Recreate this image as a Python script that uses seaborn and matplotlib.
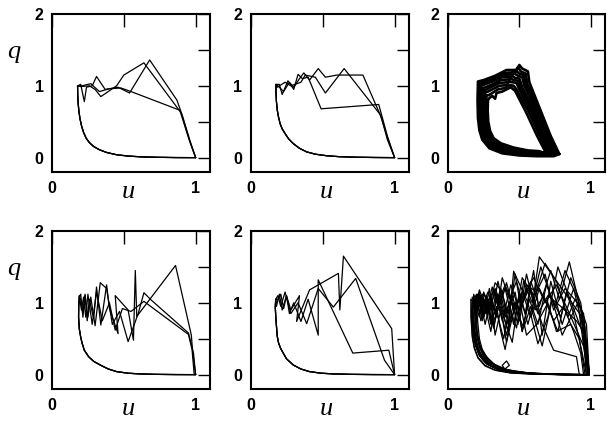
import matplotlib
matplotlib.use("Agg")
import matplotlib.pyplot as plt
import seaborn as sns
import pandas as pd

# ---------------- data ----------------
# panel 1 (top left)
p1_low_u = [0.178, 0.179, 0.182, 0.187, 0.195, 0.206, 0.22, 0.238, 0.26, 0.29, 0.33, 0.38, 0.45, 0.53, 0.62, 0.73, 0.86, 1.0]
p1_low_q = [1.0, 0.88, 0.76, 0.65, 0.54, 0.44, 0.35, 0.27, 0.21, 0.155, 0.11, 0.072, 0.04, 0.022, 0.011, 0.005, 0.001, 0.0]
p1_a_u = [1.0, 0.96, 0.91, 0.87, 0.68, 0.54, 0.46, 0.37, 0.31, 0.28, 0.24, 0.225, 0.20]
p1_a_q = [0.0, 0.24, 0.57, 0.80, 1.36, 0.90, 0.98, 0.95, 1.13, 1.0, 0.98, 0.78, 1.02]
p1_b_u = [1.0, 0.96, 0.90, 0.64, 0.50, 0.45, 0.34, 0.30, 0.26, 0.20]
p1_b_q = [0.0, 0.22, 0.62, 1.32, 1.15, 1.0, 0.85, 0.95, 1.0, 0.99]
p1_c_u = [1.0, 0.95, 0.89, 0.55, 0.48, 0.40, 0.33, 0.27, 0.21]
p1_c_q = [0.0, 0.28, 0.66, 0.92, 0.97, 0.96, 0.92, 1.03, 1.0]

# panel 2 (top middle)
p2_low_u = [0.176, 0.177, 0.180, 0.186, 0.195, 0.206, 0.22, 0.24, 0.265, 0.297, 0.34, 0.39, 0.45, 0.53, 0.62, 0.73, 0.86, 1.0]
p2_low_q = [1.02, 0.90, 0.78, 0.66, 0.56, 0.47, 0.40, 0.335, 0.26, 0.195, 0.13, 0.08, 0.048, 0.026, 0.013, 0.006, 0.002, 0.0]
p2_a_u = [1.0, 0.95, 0.89, 0.49, 0.40, 0.36, 0.33, 0.30, 0.26, 0.22, 0.20]
p2_a_q = [0.0, 0.30, 0.74, 0.68, 1.12, 1.10, 1.16, 0.95, 1.07, 0.88, 1.02]
p2_b_u = [1.0, 0.95, 0.91, 0.78, 0.60, 0.52, 0.47, 0.41, 0.37, 0.34, 0.30, 0.27, 0.23, 0.19]
p2_b_q = [0.0, 0.25, 0.55, 1.15, 1.15, 1.12, 1.24, 1.08, 1.18, 1.10, 0.98, 1.05, 0.92, 1.0]
p2_c_u = [1.0, 0.95, 0.90, 0.65, 0.52, 0.45, 0.38, 0.35, 0.28, 0.24, 0.185]
p2_c_q = [0.0, 0.28, 0.60, 1.24, 0.90, 1.12, 1.15, 1.05, 1.0, 1.05, 0.98]

# panel 3 (top right): closed loops of the periodic orbit band
p3_l0_u = [0.78, 0.72, 0.64, 0.57, 0.56, 0.52, 0.50, 0.48, 0.41, 0.33, 0.25, 0.21, 0.207, 0.21, 0.22, 0.24, 0.29, 0.38, 0.50, 0.62, 0.74, 0.78]
p3_l0_q = [0.05, 0.30, 0.70, 1.05, 1.20, 1.24, 1.29, 1.22, 1.22, 1.14, 1.08, 1.06, 0.80, 0.55, 0.38, 0.25, 0.13, 0.06, 0.03, 0.02, 0.02, 0.05]
p3_l1_u = [0.77, 0.71, 0.63, 0.555, 0.545, 0.51, 0.49, 0.47, 0.40, 0.33, 0.26, 0.215, 0.213, 0.217, 0.228, 0.25, 0.30, 0.39, 0.50, 0.62, 0.73, 0.77]
p3_l1_q = [0.06, 0.31, 0.70, 1.03, 1.17, 1.20, 1.26, 1.19, 1.18, 1.12, 1.07, 1.04, 0.78, 0.55, 0.38, 0.25, 0.14, 0.07, 0.04, 0.03, 0.03, 0.06]
p3_l2_u = [0.76, 0.70, 0.62, 0.545, 0.53, 0.50, 0.47, 0.45, 0.39, 0.32, 0.26, 0.22, 0.22, 0.224, 0.235, 0.26, 0.31, 0.40, 0.51, 0.63, 0.72, 0.76]
p3_l2_q = [0.05, 0.30, 0.68, 1.02, 1.15, 1.17, 1.22, 1.16, 1.15, 1.09, 1.04, 1.02, 0.78, 0.56, 0.39, 0.26, 0.15, 0.08, 0.045, 0.035, 0.035, 0.05]
p3_l3_u = [0.75, 0.69, 0.61, 0.535, 0.52, 0.49, 0.46, 0.44, 0.38, 0.31, 0.26, 0.23, 0.228, 0.232, 0.245, 0.27, 0.32, 0.41, 0.52, 0.64, 0.71, 0.75]
p3_l3_q = [0.06, 0.31, 0.68, 1.00, 1.12, 1.14, 1.18, 1.12, 1.12, 1.06, 1.02, 1.00, 0.76, 0.55, 0.39, 0.26, 0.16, 0.09, 0.055, 0.045, 0.045, 0.06]
p3_l4_u = [0.74, 0.675, 0.60, 0.52, 0.50, 0.47, 0.45, 0.43, 0.37, 0.31, 0.265, 0.24, 0.238, 0.242, 0.255, 0.28, 0.33, 0.42, 0.53, 0.64, 0.70, 0.74]
p3_l4_q = [0.05, 0.30, 0.66, 0.98, 1.10, 1.11, 1.14, 1.09, 1.08, 1.02, 0.98, 0.97, 0.74, 0.54, 0.39, 0.27, 0.17, 0.10, 0.065, 0.055, 0.05, 0.05]
p3_l5_u = [0.73, 0.665, 0.59, 0.51, 0.49, 0.46, 0.44, 0.42, 0.36, 0.31, 0.27, 0.25, 0.248, 0.252, 0.265, 0.29, 0.34, 0.43, 0.54, 0.64, 0.69, 0.73]
p3_l5_q = [0.06, 0.31, 0.66, 0.97, 1.07, 1.08, 1.10, 1.05, 1.04, 0.99, 0.95, 0.94, 0.72, 0.53, 0.38, 0.27, 0.18, 0.11, 0.075, 0.065, 0.06, 0.06]
p3_l6_u = [0.72, 0.655, 0.58, 0.50, 0.48, 0.45, 0.43, 0.41, 0.36, 0.31, 0.28, 0.26, 0.258, 0.262, 0.275, 0.30, 0.35, 0.44, 0.55, 0.64, 0.68, 0.72]
p3_l6_q = [0.05, 0.30, 0.64, 0.95, 1.04, 1.05, 1.06, 1.01, 1.00, 0.95, 0.92, 0.91, 0.70, 0.52, 0.38, 0.27, 0.19, 0.12, 0.085, 0.075, 0.065, 0.05]
p3_l7_u = [0.70, 0.64, 0.565, 0.48, 0.46, 0.44, 0.42, 0.40, 0.35, 0.31, 0.285, 0.27, 0.268, 0.272, 0.285, 0.31, 0.36, 0.45, 0.56, 0.64, 0.67, 0.70]
p3_l7_q = [0.06, 0.31, 0.64, 0.95, 1.00, 1.01, 1.00, 0.97, 0.95, 0.90, 0.87, 0.87, 0.68, 0.51, 0.37, 0.27, 0.19, 0.13, 0.09, 0.08, 0.07, 0.06]
p3_l8_u = [0.69, 0.62, 0.55, 0.47, 0.44, 0.42, 0.38, 0.34, 0.33, 0.31, 0.29, 0.28, 0.278, 0.282, 0.295, 0.32, 0.37, 0.46, 0.56, 0.64, 0.69]
p3_l8_q = [0.05, 0.32, 0.62, 0.93, 0.98, 0.96, 0.92, 0.90, 0.82, 0.86, 0.83, 0.80, 0.66, 0.50, 0.37, 0.27, 0.20, 0.14, 0.10, 0.09, 0.05]

# panel 4 (bottom left)
p4_low_u = [0.19, 0.186, 0.185, 0.19, 0.20, 0.21, 0.225, 0.255, 0.29, 0.336, 0.39, 0.45, 0.53, 0.61, 0.72, 0.86, 1.0]
p4_low_q = [1.08, 0.95, 0.80, 0.64, 0.52, 0.435, 0.34, 0.25, 0.185, 0.134, 0.08, 0.042, 0.02, 0.01, 0.004, 0.001, 0.0]
p4_a_u = [1.0, 0.98, 0.97, 0.86, 0.59, 0.58, 0.567, 0.53, 0.44, 0.46, 0.40, 0.38, 0.34, 0.31, 0.29, 0.26, 0.245, 0.23, 0.215, 0.20, 0.19]
p4_a_q = [0.0, 0.30, 0.55, 1.52, 0.81, 1.45, 0.48, 0.90, 1.10, 0.57, 0.92, 1.25, 0.69, 1.22, 0.78, 1.05, 0.75, 1.10, 0.80, 1.12, 1.08]
p4_b_u = [1.0, 0.985, 0.95, 0.69, 0.64, 0.60, 0.53, 0.47, 0.42, 0.38, 0.336, 0.30, 0.27, 0.25, 0.23, 0.215, 0.20, 0.19]
p4_b_q = [0.0, 0.30, 0.58, 1.04, 1.14, 0.85, 0.46, 0.88, 0.70, 1.20, 1.28, 0.68, 1.08, 0.80, 1.12, 0.85, 1.05, 1.08]
p4_c_u = [0.99, 0.975, 0.95, 0.64, 0.55, 0.49, 0.44, 0.40, 0.35, 0.31, 0.28, 0.25, 0.235, 0.22, 0.205, 0.19]
p4_c_q = [0.0, 0.35, 0.56, 1.02, 0.88, 0.92, 0.62, 1.00, 0.75, 1.15, 0.70, 1.12, 0.80, 1.08, 0.90, 1.10]

# panel 5 (bottom middle)
p5_low_u = [0.175, 0.172, 0.175, 0.18, 0.186, 0.195, 0.208, 0.227, 0.25, 0.297, 0.35, 0.41, 0.49, 0.575, 0.70, 0.85, 1.0]
p5_low_q = [1.05, 0.94, 0.82, 0.68, 0.53, 0.44, 0.37, 0.30, 0.22, 0.134, 0.078, 0.042, 0.02, 0.01, 0.004, 0.001, 0.0]
p5_a_u = [1.0, 0.98, 0.645, 0.62, 0.61, 0.41, 0.32, 0.34, 0.28, 0.25, 0.23, 0.21, 0.195]
p5_a_q = [0.0, 0.64, 1.65, 0.90, 1.41, 1.18, 0.74, 1.10, 0.90, 1.10, 0.92, 1.12, 1.05]
p5_b_u = [1.0, 0.96, 0.71, 0.47, 0.47, 0.40, 0.35, 0.30, 0.27, 0.25, 0.22, 0.20, 0.18]
p5_b_q = [0.0, 0.34, 0.30, 1.32, 0.55, 1.05, 0.74, 1.0, 0.85, 1.1, 0.9, 1.12, 0.95]
p5_c_u = [1.0, 0.93, 0.73, 0.575, 0.47, 0.39, 0.33, 0.28, 0.24, 0.21, 0.19]
p5_c_q = [0.0, 0.20, 1.34, 0.94, 1.20, 0.71, 1.0, 0.85, 1.15, 0.95, 1.1]

# panel 6 (bottom right): many irregular trajectories
p6_t1_u = [0.99, 0.96, 0.85, 0.78, 0.72, 0.64, 0.58, 0.50, 0.44, 0.38, 0.33, 0.28, 0.24, 0.21, 0.18, 0.17, 0.175, 0.19, 0.22, 0.27, 0.34, 0.45, 0.60, 0.80, 0.99]
p6_t1_q = [0.0, 0.65, 1.57, 1.05, 1.45, 0.95, 1.30, 0.90, 1.25, 0.75, 1.15, 0.85, 1.12, 1.0, 1.08, 0.85, 0.6, 0.42, 0.27, 0.15, 0.08, 0.03, 0.01, 0.0, 0.0]
p6_t2_u = [0.98, 0.94, 0.64, 0.60, 0.52, 0.46, 0.40, 0.35, 0.31, 0.27, 0.23, 0.19, 0.18, 0.185, 0.20, 0.23, 0.28, 0.36, 0.47, 0.62, 0.80, 0.98]
p6_t2_q = [0.0, 0.80, 1.64, 1.10, 1.35, 0.70, 1.20, 0.95, 1.22, 0.90, 1.10, 1.05, 0.80, 0.58, 0.40, 0.26, 0.15, 0.08, 0.035, 0.012, 0.003, 0.0]
p6_t3_u = [0.99, 0.95, 0.77, 0.70, 0.63, 0.56, 0.46, 0.42, 0.36, 0.32, 0.29, 0.25, 0.22, 0.20, 0.16, 0.16, 0.17, 0.185, 0.21, 0.26, 0.33, 0.44, 0.60, 0.80, 0.99]
p6_t3_q = [0.0, 0.55, 1.50, 0.80, 0.43, 1.00, 1.44, 0.60, 1.05, 0.65, 1.20, 0.80, 1.15, 0.95, 1.05, 0.8, 0.55, 0.38, 0.24, 0.13, 0.065, 0.025, 0.008, 0.0, 0.0]
p6_t4_u = [0.92, 0.90, 0.74, 0.66, 0.58, 0.52, 0.48, 0.41, 0.37, 0.33, 0.30, 0.26, 0.23, 0.21, 0.19, 0.20, 0.215, 0.24, 0.29, 0.37, 0.40, 0.43, 0.41, 0.38, 0.40, 0.48, 0.62, 0.78, 0.92]
p6_t4_q = [0.0, 0.25, 0.34, 0.70, 1.20, 0.60, 1.05, 0.45, 0.90, 0.55, 1.05, 0.70, 1.00, 1.12, 0.90, 0.62, 0.45, 0.30, 0.17, 0.09, 0.08, 0.13, 0.19, 0.13, 0.07, 0.04, 0.015, 0.005, 0.0]
p6_t5_u = [0.99, 0.97, 0.88, 0.80, 0.72, 0.66, 0.60, 0.54, 0.48, 0.43, 0.38, 0.34, 0.30, 0.26, 0.22, 0.20, 0.195, 0.20, 0.22, 0.25, 0.30, 0.38, 0.50, 0.65, 0.82, 0.99]
p6_t5_q = [0.0, 0.45, 1.20, 0.70, 1.30, 0.55, 1.45, 0.85, 1.30, 1.05, 1.35, 0.80, 1.10, 0.95, 1.18, 1.0, 0.75, 0.55, 0.38, 0.25, 0.14, 0.07, 0.03, 0.01, 0.0, 0.0]
p6_t6_u = [0.97, 0.93, 0.82, 0.74, 0.68, 0.62, 0.55, 0.50, 0.45, 0.40, 0.35, 0.30, 0.27, 0.24, 0.21, 0.18, 0.17, 0.175, 0.185, 0.21, 0.25, 0.31, 0.40, 0.52, 0.70, 0.97]
p6_t6_q = [0.0, 0.95, 1.20, 0.90, 1.40, 1.15, 1.25, 0.75, 1.10, 0.85, 1.30, 0.75, 1.10, 0.85, 1.05, 1.10, 0.9, 0.65, 0.47, 0.31, 0.19, 0.11, 0.055, 0.022, 0.006, 0.0]
p6_t7_u = [0.99, 0.95, 0.90, 0.79, 0.70, 0.63, 0.57, 0.51, 0.47, 0.42, 0.38, 0.33, 0.29, 0.25, 0.22, 0.20, 0.19, 0.19, 0.205, 0.23, 0.28, 0.35, 0.46, 0.62, 0.80, 0.99]
p6_t7_q = [0.0, 0.60, 0.75, 0.95, 1.10, 0.85, 1.20, 0.95, 1.40, 0.70, 1.15, 1.28, 0.95, 1.15, 0.85, 1.10, 0.85, 0.6, 0.42, 0.28, 0.16, 0.085, 0.035, 0.01, 0.0, 0.0]
p6_t8_u = [0.96, 0.92, 0.86, 0.76, 0.70, 0.62, 0.55, 0.50, 0.44, 0.40, 0.37, 0.34, 0.30, 0.27, 0.24, 0.22, 0.20, 0.21, 0.22, 0.24, 0.28, 0.34, 0.43, 0.55, 0.72, 0.96]
p6_t8_q = [0.0, 0.50, 0.70, 0.60, 1.00, 0.70, 0.55, 1.05, 0.78, 0.35, 0.60, 0.95, 0.70, 1.00, 0.75, 1.05, 0.95, 0.7, 0.5, 0.35, 0.22, 0.12, 0.06, 0.025, 0.008, 0.0]
p6_t9_u = [0.99, 0.96, 0.84, 0.76, 0.68, 0.60, 0.53, 0.46, 0.40, 0.36, 0.32, 0.28, 0.25, 0.22, 0.20, 0.17, 0.165, 0.17, 0.185, 0.21, 0.26, 0.33, 0.44, 0.60, 0.80, 0.99]
p6_t9_q = [0.0, 0.35, 0.90, 1.25, 1.00, 1.35, 1.10, 0.95, 1.25, 1.05, 1.18, 1.00, 1.12, 0.98, 1.05, 1.0, 0.75, 0.52, 0.36, 0.23, 0.12, 0.06, 0.022, 0.006, 0.0, 0.0]
p6_t10_u = [0.99, 0.97, 0.90, 0.82, 0.75, 0.69, 0.63, 0.57, 0.52, 0.47, 0.42, 0.37, 0.32, 0.28, 0.24, 0.21, 0.185, 0.18, 0.185, 0.20, 0.23, 0.28, 0.36, 0.47, 0.63, 0.82, 0.99]
p6_t10_q = [0.0, 0.70, 1.10, 1.45, 0.95, 1.25, 0.70, 1.05, 0.60, 1.15, 0.85, 1.20, 0.90, 1.15, 0.95, 1.12, 1.0, 0.78, 0.55, 0.39, 0.25, 0.14, 0.07, 0.03, 0.01, 0.0, 0.0]
p6_t11_u = [0.98, 0.95, 0.91, 0.80, 0.73, 0.66, 0.58, 0.53, 0.46, 0.41, 0.36, 0.31, 0.27, 0.23, 0.20, 0.175, 0.17, 0.18, 0.195, 0.22, 0.27, 0.34, 0.44, 0.58, 0.78, 0.98]
p6_t11_q = [0.0, 0.40, 1.00, 0.55, 1.05, 0.40, 0.95, 0.65, 1.00, 0.55, 0.95, 0.70, 1.05, 0.90, 1.12, 1.02, 0.8, 0.58, 0.40, 0.26, 0.15, 0.08, 0.035, 0.012, 0.002, 0.0]
p6_t12_u = [0.99, 0.96, 0.93, 0.86, 0.79, 0.71, 0.65, 0.59, 0.53, 0.48, 0.43, 0.39, 0.35, 0.30, 0.26, 0.23, 0.21, 0.19, 0.19, 0.20, 0.22, 0.26, 0.32, 0.41, 0.54, 0.72, 0.99]
p6_t12_q = [0.0, 0.55, 1.00, 1.35, 0.80, 1.15, 1.50, 1.00, 1.30, 0.65, 0.95, 0.50, 0.80, 1.05, 0.85, 1.10, 0.90, 1.08, 0.82, 0.6, 0.42, 0.27, 0.15, 0.07, 0.03, 0.008, 0.0]
p6_t13_u = [0.97, 0.94, 0.88, 0.83, 0.77, 0.70, 0.64, 0.58, 0.52, 0.46, 0.41, 0.37, 0.33, 0.29, 0.25, 0.22, 0.19, 0.17, 0.165, 0.175, 0.19, 0.22, 0.27, 0.35, 0.46, 0.62, 0.80, 0.97]
p6_t13_q = [0.0, 0.30, 0.85, 1.15, 0.60, 0.95, 1.20, 0.80, 1.15, 0.90, 1.28, 1.00, 1.20, 0.85, 1.05, 0.80, 1.00, 1.08, 0.88, 0.64, 0.45, 0.29, 0.16, 0.08, 0.03, 0.01, 0.002, 0.0]
p6_t14_u = [0.99, 0.95, 0.89, 0.84, 0.76, 0.68, 0.61, 0.56, 0.50, 0.45, 0.39, 0.34, 0.30, 0.26, 0.23, 0.205, 0.20, 0.205, 0.22, 0.25, 0.30, 0.37, 0.48, 0.64, 0.83, 0.99]
p6_t14_q = [0.0, 0.85, 1.05, 0.80, 1.30, 1.55, 1.10, 0.70, 1.15, 0.45, 0.80, 1.10, 0.60, 0.95, 0.75, 1.05, 0.8, 0.6, 0.43, 0.29, 0.17, 0.09, 0.04, 0.012, 0.002, 0.0]
p6_t15_u = [0.95, 0.93, 0.88, 0.81, 0.74, 0.67, 0.61, 0.55, 0.49, 0.44, 0.40, 0.36, 0.32, 0.28, 0.25, 0.22, 0.20, 0.18, 0.175, 0.18, 0.195, 0.22, 0.26, 0.32, 0.41, 0.53, 0.70, 0.95]
p6_t15_q = [0.0, 0.30, 0.60, 0.95, 0.75, 1.10, 0.90, 1.40, 0.70, 1.05, 0.80, 1.10, 0.65, 1.00, 0.80, 1.10, 0.95, 1.12, 0.9, 0.68, 0.48, 0.32, 0.20, 0.11, 0.055, 0.022, 0.006, 0.0]

x_ticks = [0, 0.5, 1]
x_tick_labels = ["0", "", "1"]
y_ticks = [0, 0.5, 1, 1.5, 2]
y_tick_labels = ["0", "", "1", "", "2"]


def frame(parts):
    rows = []
    for k, (u, q) in enumerate(parts):
        for i, (a, b) in enumerate(zip(u, q)):
            rows.append({"traj": k, "i": i, "u": a, "q": b})
    return pd.DataFrame(rows)


panels = [
    (frame([(p1_a_u + p1_low_u, p1_a_q + p1_low_q),
            (p1_b_u + p1_low_u, p1_b_q + p1_low_q),
            (p1_c_u + p1_low_u, p1_c_q + p1_low_q)]), 0.9),
    (frame([(p2_a_u + p2_low_u, p2_a_q + p2_low_q),
            (p2_b_u + p2_low_u, p2_b_q + p2_low_q),
            (p2_c_u + p2_low_u, p2_c_q + p2_low_q)]), 0.9),
    (frame([(p3_l0_u, p3_l0_q), (p3_l1_u, p3_l1_q), (p3_l2_u, p3_l2_q),
            (p3_l3_u, p3_l3_q), (p3_l4_u, p3_l4_q), (p3_l5_u, p3_l5_q),
            (p3_l6_u, p3_l6_q), (p3_l7_u, p3_l7_q), (p3_l8_u, p3_l8_q)]), 1.9),
    (frame([(p4_a_u + p4_low_u, p4_a_q + p4_low_q),
            (p4_b_u + p4_low_u, p4_b_q + p4_low_q),
            (p4_c_u + p4_low_u, p4_c_q + p4_low_q)]), 0.9),
    (frame([(p5_a_u + p5_low_u, p5_a_q + p5_low_q),
            (p5_b_u + p5_low_u, p5_b_q + p5_low_q),
            (p5_c_u + p5_low_u, p5_c_q + p5_low_q)]), 0.9),
    (frame([(p6_t1_u, p6_t1_q), (p6_t2_u, p6_t2_q), (p6_t3_u, p6_t3_q),
            (p6_t4_u, p6_t4_q), (p6_t5_u, p6_t5_q), (p6_t6_u, p6_t6_q),
            (p6_t7_u, p6_t7_q), (p6_t8_u, p6_t8_q), (p6_t9_u, p6_t9_q),
            (p6_t10_u, p6_t10_q), (p6_t11_u, p6_t11_q), (p6_t12_u, p6_t12_q),
            (p6_t13_u, p6_t13_q), (p6_t14_u, p6_t14_q), (p6_t15_u, p6_t15_q)]), 0.9),
]

# ---------------- figure ----------------
sns.set_theme(style="white")
plt.rcParams["font.family"] = ["Liberation Sans", "DejaVu Sans"]

W, H = 607, 422
fig = plt.figure(figsize=(W / 100, H / 100), dpi=100)
cols = [(52, 210), (250.5, 409), (448, 605)]
rows_px = [(14, 172), (231, 389)]

for idx, (df, lw) in enumerate(panels):
    r, c = divmod(idx, 3)
    l, rr = cols[c]
    t, b = rows_px[r]
    ax = fig.add_axes([l / W, 1 - b / H, (rr - l) / W, (b - t) / H])
    sns.lineplot(data=df, x="u", y="q", units="traj", estimator=None, sort=False,
                 color="black", lw=lw, ax=ax, legend=False)
    ax.set_xlim(0, 1.1)
    ax.set_ylim(-0.2, 2)
    ax.set_xticks(x_ticks)
    ax.set_xticklabels(x_tick_labels, fontweight="bold")
    ax.set_yticks(y_ticks)
    ax.set_yticklabels(y_tick_labels, fontweight="bold")
    ax.tick_params(axis="both", direction="in", length=9, width=1.0, color="black",
                   top=True, right=True, labelsize=11.5, labelcolor="black")
    ax.tick_params(axis="x", pad=6.5)
    ax.tick_params(axis="y", pad=6)
    for s in ax.spines.values():
        s.set_color("black")
        s.set_linewidth(1.5)
    ax.set_xlabel("")
    ax.set_ylabel("")
    ax.text(0.48, -0.165, "u", transform=ax.transAxes, fontfamily="Liberation Serif",
            style="italic", fontsize=19, ha="center", va="baseline", color="black")
    if c == 0:
        ax.text(-0.24, 0.72, "q", transform=ax.transAxes, fontfamily="Liberation Serif",
                style="italic", fontsize=19, ha="center", va="baseline", color="black")

fig.savefig("out.png", dpi=100)
